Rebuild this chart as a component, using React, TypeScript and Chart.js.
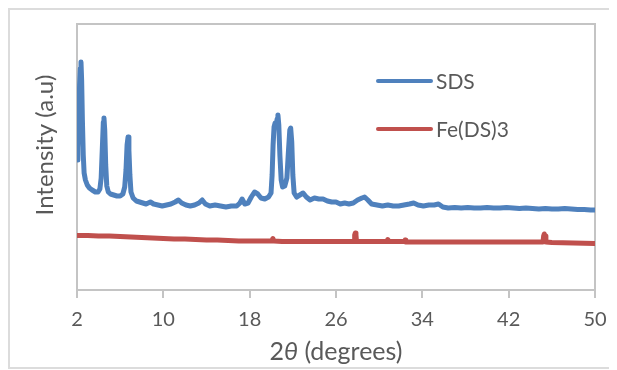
import React, { useEffect, useRef } from "react";
import { Chart, registerables } from "chart.js";

Chart.register(...registerables);

const seriesNames = ["SDS", "Fe(DS)3"];
const seriesColors = ["#4f81bd", "#c0504d"];
const xTicks = [2, 10, 18, 26, 34, 42, 50];

const sdsAngle = [
  2.0, 2.08, 2.16, 2.24, 2.31, 2.37, 2.43, 2.5, 2.58, 2.66, 2.78, 2.95, 3.15, 3.4, 3.7, 3.95,
  4.12, 4.24, 4.34, 4.44, 4.5, 4.57, 4.66, 4.76, 4.9, 5.1, 5.4, 5.7, 6.0, 6.25, 6.42, 6.54,
  6.64, 6.73, 6.81, 6.9, 7.0, 7.2, 7.5, 7.8, 8.1, 8.4, 8.8, 9.1, 9.5, 9.9, 10.3, 10.7, 11.1,
  11.4, 11.7, 12.1, 12.5, 12.9, 13.3, 13.6, 13.9, 14.3, 14.8, 15.3, 15.8, 16.3, 16.8, 17.1,
  17.3, 17.55, 17.85, 18.15, 18.45, 18.75, 19.05, 19.4, 19.75, 19.98, 20.08, 20.17, 20.26,
  20.36, 20.45, 20.54, 20.62, 20.7, 20.8, 20.92, 21.05, 21.25, 21.45, 21.6, 21.72, 21.8, 21.9,
  22.0, 22.12, 22.35, 22.65, 22.95, 23.25, 23.6, 24.0, 24.4, 24.8, 25.2, 25.6, 26.0, 26.4,
  26.8, 27.2, 27.6, 28.0, 28.4, 28.65, 28.95, 29.3, 29.8, 30.3, 30.8, 31.3, 31.8, 32.3, 32.8,
  33.2, 33.6, 34.1, 34.6, 35.1, 35.5, 35.9, 36.4, 37, 37.6, 38.2, 38.8, 39.4, 40, 40.6, 41.2,
  41.8, 42.4, 43, 43.6, 44.2, 44.8, 45.4, 46, 46.6, 47.2, 47.8, 48.4, 49, 49.6, 50,
];
const sdsIntensity = [
  130, 142, 170, 205, 222, 228, 210, 170, 135, 117, 110, 105, 102, 100, 98, 98,
  101, 112, 140, 168, 172, 160, 125, 104, 98, 96, 95, 94, 94, 96, 103, 120,
  145, 153, 140, 115, 98, 92, 89, 88, 87, 86, 88, 86, 85, 84, 85, 86, 88,
  90, 87, 85, 84, 85, 87, 90, 86, 84, 85, 84, 83, 84, 84, 87,
  91, 86, 87, 93, 98, 96, 92, 91, 93, 97, 115, 145, 163,
  167, 163, 171, 175, 165, 135, 110, 103, 104, 112, 140, 160, 162, 148,
  115, 97, 93, 95, 97, 93, 90, 92, 91, 91, 89, 88, 88, 86,
  87, 86, 87, 90, 92, 93, 90, 86, 85, 84, 85, 84, 84, 85, 86,
  87, 85, 84, 85, 85, 86, 83, 82, 82.5, 82, 82.5, 82, 82, 82.5, 82, 82,
  82.5, 82, 81.5, 82, 81.5, 81, 81.5, 81, 81, 81.5, 81, 80.5, 80.5, 80, 80,
];

const feAngle = [
  2, 3, 4, 5, 6, 7, 8, 9, 10, 11, 12, 13, 14, 15, 16, 17, 18, 19, 20.05, 20.15, 20.25, 21, 22,
  23, 24, 25, 26, 27, 27.68, 27.73, 27.79, 27.85, 27.9, 29, 30, 30.73, 30.8, 30.87, 32.33, 32.4,
  32.47, 34, 36, 38, 40, 42, 44, 45.18, 45.24, 45.3, 45.38, 45.45, 46, 48, 50,
];
const feIntensity = [
  54.5, 54.5, 54, 54, 53.5, 53, 52.5, 52, 51.5, 51, 51, 50.5, 50, 50, 49.5, 49, 49, 49, 49, 51.5,
  49, 48.5, 48.5, 48.5, 48.5, 48.5, 48.5, 48.5, 48.5, 55, 57, 55, 48.5, 48.5, 48.5, 48.5, 50.5,
  48.5, 48.5, 50, 48, 48, 48, 48, 48, 48, 48, 48, 54, 56, 54, 48, 47.5, 47, 46.5,
];

const FONT = "Lato, 'Open Sans', sans-serif";
const TEXT = "#595959";
const AXIS = "#c4c4c4";

const decorPlugin = {
  id: "decor",
  beforeDatasetsDraw(chart: any) {
    const { ctx, chartArea } = chart;
    ctx.save();
    ctx.strokeStyle = AXIS;
    ctx.lineWidth = 2;
    ctx.strokeRect(chartArea.left, chartArea.top, chartArea.right - chartArea.left, chartArea.bottom - chartArea.top);
    ctx.restore();
  },
  afterDraw(chart: any) {
    const { ctx, chartArea } = chart;
    ctx.save();
    // legend
    const rows = [71, 119];
    seriesNames.forEach((name, i) => {
      const y = rows[i];
      ctx.strokeStyle = seriesColors[i];
      ctx.lineWidth = 4;
      ctx.lineCap = "round";
      ctx.beginPath();
      ctx.moveTo(368, y);
      ctx.lineTo(421, y);
      ctx.stroke();
      ctx.fillStyle = TEXT;
      ctx.font = `21px ${FONT}`;
      ctx.textAlign = "left";
      ctx.textBaseline = "middle";
      ctx.fillText(name, 426, y + 1);
    });
    // x title with italic theta
    const parts = [
      { t: "2", f: `25px ${FONT}` },
      { t: "θ", f: `italic 25px ${FONT}` },
      { t: " (degrees)", f: `25px ${FONT}` },
    ];
    let total = 0;
    parts.forEach((p) => {
      ctx.font = p.f;
      total += ctx.measureText(p.t).width;
    });
    let x = (chartArea.left + chartArea.right) / 2 - total / 2;
    ctx.fillStyle = TEXT;
    ctx.textBaseline = "middle";
    ctx.textAlign = "left";
    parts.forEach((p) => {
      ctx.font = p.f;
      ctx.fillText(p.t, x, 342);
      x += ctx.measureText(p.t).width;
    });
    // y title
    ctx.translate(35, 135);
    ctx.rotate(-Math.PI / 2);
    ctx.font = `24px ${FONT}`;
    ctx.textAlign = "center";
    ctx.textBaseline = "middle";
    ctx.fillText("Intensity (a.u)", 0, 0);
    ctx.restore();
  },
};

export default function App() {
  const ref = useRef<HTMLCanvasElement | null>(null);

  useEffect(() => {
    document.documentElement.style.overflow = "hidden";
    document.body.style.overflow = "hidden";
    if (!ref.current) return;
    const chart = new Chart(ref.current, {
      type: "line",
      data: {
        datasets: [
          {
            label: seriesNames[0],
            data: sdsAngle.map((a, i) => ({ x: a, y: sdsIntensity[i] })),
            borderColor: seriesColors[0],
            borderWidth: 5,
            borderJoinStyle: "round",
            borderCapStyle: "round",
            pointRadius: 0,
            tension: 0,
            fill: false,
          },
          {
            label: seriesNames[1],
            data: feAngle.map((a, i) => ({ x: a, y: feIntensity[i] })),
            borderColor: seriesColors[1],
            borderWidth: 5,
            borderJoinStyle: "round",
            borderCapStyle: "round",
            pointRadius: 0,
            tension: 0,
            fill: false,
          },
        ],
      },
      options: {
        animation: false,
        responsive: false,
        maintainAspectRatio: false,
        layout: { padding: { left: 67, top: 14, right: 22, bottom: 0 } },
        plugins: { legend: { display: false }, tooltip: { enabled: false } },
        scales: {
          x: {
            type: "linear",
            min: 2,
            max: 50,
            afterBuildTicks: (s: any) => {
              s.ticks = xTicks.map((v) => ({ value: v }));
            },
            afterFit: (s: any) => {
              s.height = 77;
            },
            border: { display: false },
            grid: {
              drawOnChartArea: false,
              drawTicks: true,
              tickLength: 8,
              color: AXIS,
              lineWidth: 2,
            },
            ticks: {
              autoSkip: false,
              maxRotation: 0,
              padding: 10,
              color: TEXT,
              font: { family: FONT, size: 20 },
            },
          },
          y: {
            display: false,
            min: 0,
            max: 266,
          },
        },
      },
      plugins: [decorPlugin],
    });
    return () => chart.destroy();
  }, []);

  return (
    <div
      style={{
        width: 607,
        height: 357,
        borderTop: "2px solid #dcdcdc",
        borderLeft: "2px solid #dcdcdc",
        borderBottom: "2px solid #dcdcdc",
        position: "relative",
      }}
    >
      <canvas ref={ref} width={607} height={357} style={{ display: "block", width: 607, height: 357 }} />
    </div>
  );
}
